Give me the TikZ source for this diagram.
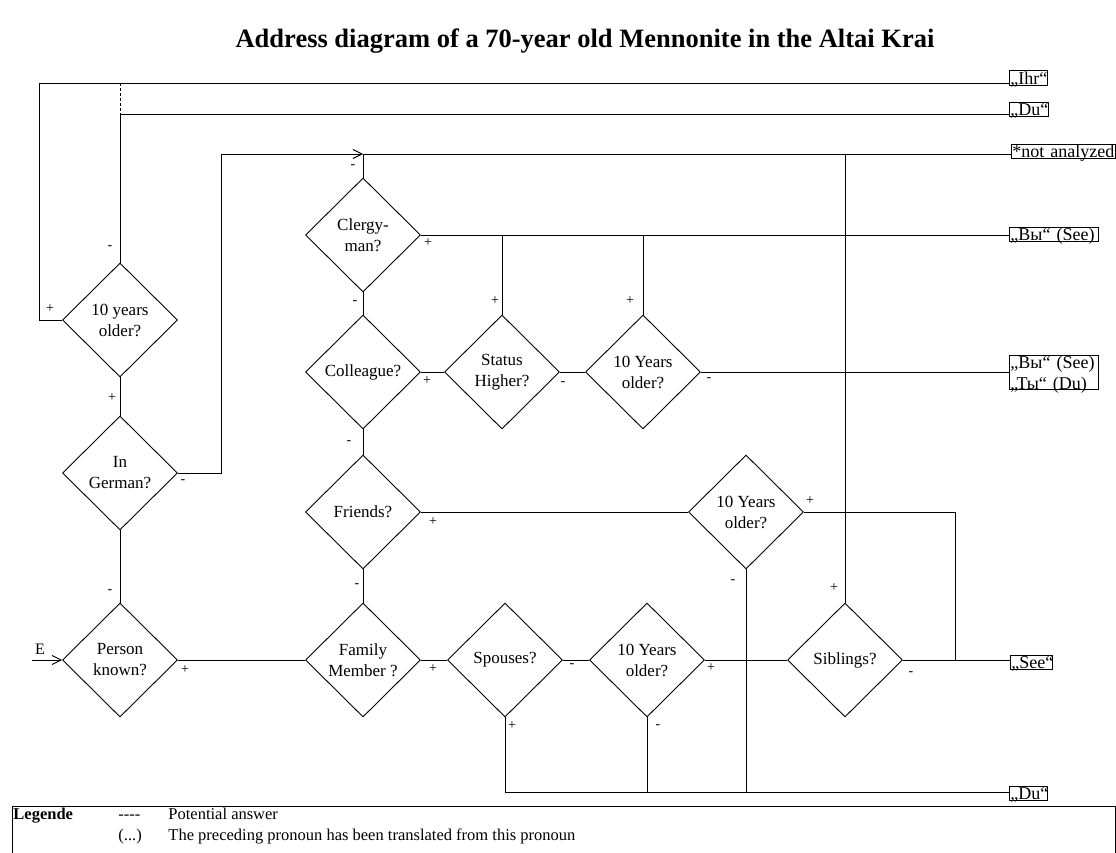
\documentclass[tikz,border=0pt]{standalone}
\usepackage{fontspec}
\setmainfont{Liberation Serif}
\usetikzlibrary{shapes.geometric,arrows.meta}
\newcommand\dfont{\fontsize{17}{21}\selectfont}
\newcommand\lfont{\fontsize{18}{20}\selectfont}
\newcommand\sfont{\fontsize{14}{16}\selectfont}
\newcommand\gfont{\fontsize{16.5}{19}\selectfont}
\newcommand\tfont{\fontsize{26.5}{30}\selectfont}
\begin{document}
\begin{tikzpicture}[x=1pt,y=-1pt,line width=0.9pt,
  dec/.style={diamond,draw,minimum width=115pt,minimum height=114pt,inner sep=0pt,align=center,font=\dfont},
  lbl/.style={draw,anchor=west,inner xsep=1pt,inner ysep=0.8pt,text height=12.5pt,text depth=0pt,font=\lfont,align=left},
  sgn/.style={font=\sfont,inner sep=0pt},
  leg/.style={font=\gfont,anchor=base west,inner sep=0pt},
  arr/.style={-{Straight Barb[length=9pt,width=9pt]}}]
\useasboundingbox (0,0) rectangle (1116,853);
% title
\node[font=\tfont\bfseries,anchor=base] (title) at (585,48) {Address diagram of a 70-year old Mennonite in the Altai Krai};
% decisions
\node[dec] (d1) at (120,320) {10 years\\older?};
\node[dec] (d2) at (120,473) {In\\German?};
\node[dec] (d3) at (120,660) {Person\\known?};
\node[dec] (cl) at (363,235) {Clergy-\\man?};
\node[dec] (co) at (363,372) {Colleague?};
\node[dec] (st) at (502,372) {Status\\Higher?};
\node[dec] (y1) at (643,372) {10 Years\\older?};
\node[dec] (fr) at (363,512) {Friends?};
\node[dec] (y2) at (746,512) {10 Years\\older?};
\node[dec] (fm) at (363,660) {Family\\Member ?};
\node[dec] (sp) at (505,660) {Spouses?};
\node[dec] (y3) at (647,660) {10 Years\\older?};
\node[dec] (si) at (845,660) {Siblings?};
% answer boxes
\node[lbl,text width=36pt] (ihr) at (1009,78) {„Ihr“};
\node[lbl,text width=37pt] (du1) at (1009,109.5) {„Du“};
\node[lbl,text width=102pt] (na) at (1011,151.5) {*not analyzed};
\node[lbl,text width=87pt] (vy) at (1009,234.5) {„Вы“ (See)};
\node[lbl,text width=87pt,text depth=20.5pt,font=\fontsize{18}{20.5}\selectfont] (vt) at (1009,372.5) {„Вы“ (See)\\„Ты“ (Du)};
\node[lbl,text width=40pt] (see) at (1010,662.5) {„See“};
\node[lbl,text width=36pt] (du2) at (1009,793) {„Du“};
% coordinates
\coordinate (a1) at (39,320);
\coordinate (a2) at (39,83);
\coordinate (b1) at (120,83);
\coordinate (b2) at (120,114);
\coordinate (c1) at (221,473);
\coordinate (c2) at (221,154);
\coordinate (j1) at (363,154);
\coordinate (j2) at (845,154);
\coordinate (e1) at (955,512);
\coordinate (e2) at (955,660);
\coordinate (f1) at (746,792);
\coordinate (g1) at (505,792);
\coordinate (E) at (32,660);
% connectors
\draw (d1.west) -- (a1) -- (a2) -- (a2 -| ihr.west);
\draw[dash pattern=on 3pt off 2pt] (b1) -- (b2);
\draw (d1.north) -- (b2) -- (b2 -| du1.west);
\draw (d1.south) -- (d2.north);
\draw[arr] (d2.east) -- (c1) -- (c2) -- (j1);
\draw (j1) -- (j1 -| na.west);
\draw (cl.north) -- (j1);
\draw (j2) -- (si.north);
\draw (cl.east) -- (cl.east -| vy.west);
\draw (st.north) -- (st.north |- cl.east);
\draw (y1.north) -- (y1.north |- cl.east);
\draw (cl.south) -- (co.north);
\draw (co.east) -- (st.west);
\draw (st.east) -- (y1.west);
\draw (y1.east) -- (y1.east -| vt.west);
\draw (co.south) -- (fr.north);
\draw (fr.east) -- (y2.west);
\draw (y2.east) -- (e1) -- (e2);
\draw (y2.south) -- (f1);
\draw (fr.south) -- (fm.north);
\draw (d3.east) -- (fm.west);
\draw[arr] (E) -- (d3.west);
\draw (d2.south) -- (d3.north);
\draw (fm.east) -- (sp.west);
\draw (sp.east) -- (y3.west);
\draw (y3.east) -- (si.west);
\draw (si.east) -- (si.east -| see.west);
\draw (sp.south) -- (g1) -- (g1 -| du2.west);
\draw (y3.south) -- (y3.south |- g1);
% signs
\node[sgn] (p1) at (50,309) {+};
\node[sgn] (p2) at (110,248) {-};
\node[sgn] (p3) at (112,398) {+};
\node[sgn] (p4) at (183,482) {-};
\node[sgn] (p5) at (353,167) {-};
\node[sgn] (p6) at (834,588) {+};
\node[sgn] (p7) at (428,243) {+};
\node[sgn] (p8) at (495,301) {+};
\node[sgn] (p9) at (630,301) {+};
\node[sgn] (p10) at (355,303) {-};
\node[sgn] (p11) at (427,381) {+};
\node[sgn] (p12) at (563,384) {-};
\node[sgn] (p13) at (709,380) {-};
\node[sgn] (p14) at (349,443) {-};
\node[sgn] (p15) at (433,522) {+};
\node[sgn] (p16) at (810,501) {+};
\node[sgn] (p17) at (733,582) {-};
\node[sgn] (p18) at (357,586) {-};
\node[sgn] (p19) at (185,670) {+};
\node[sgn] (p20) at (110,592) {-};
\node[sgn] (p21) at (433,669) {+};
\node[sgn] (p22) at (572,666) {-};
\node[sgn] (p23) at (711,668) {+};
\node[sgn] (p24) at (911,674) {-};
\node[sgn] (p25) at (512,726) {+};
\node[sgn] (p26) at (658,727) {-};
\node[font=\fontsize{16}{18}\selectfont,inner sep=0pt] (Elbl) at (40,649) {E};
% legend
\draw (12,860) -- (12,806) -- (1115,806) -- (1115,860);
\node[leg,font=\gfont\bfseries] (lg) at (13,819) {Legende};
\node[leg] (lg1) at (118,819) {{-}{-}{-}{-}};
\node[leg] (lg2) at (168,819) {Potential answer};
\node[leg] (lg3) at (118,840) {(...)};
\node[leg] (lg4) at (168,840) {The preceding pronoun has been translated from this pronoun};
\end{tikzpicture}
\end{document}
